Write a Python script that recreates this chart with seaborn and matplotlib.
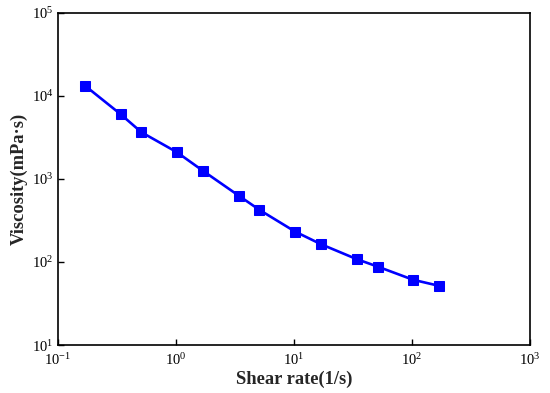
import matplotlib
matplotlib.use("Agg")
import matplotlib.pyplot as plt
import numpy as np
import pandas as pd
import seaborn as sns

# shear rate (1/s) and apparent viscosity (mPa·s)
shear_rate = [0.17, 0.34, 0.51, 1.02, 1.7, 3.4, 5.1, 10.2, 17, 34, 51, 102, 170]
viscosity = [13200, 6000, 3640, 2090, 1245, 628, 423, 232, 163, 108, 88, 61, 51.5]

XLABEL = "Shear rate(1/s)"
YLABEL = "Viscosity(mPa·s)"

sns.set_theme(style="ticks")
plt.rcParams.update({
    "font.family": ["Liberation Serif", "DejaVu Serif"],
    "mathtext.fontset": "custom",
    "mathtext.rm": "Liberation Serif",
    "xtick.direction": "in",
    "ytick.direction": "in",
    "axes.linewidth": 1.2,
    "axes.edgecolor": "black",
})

df = pd.DataFrame({"rate": shear_rate, "visc": viscosity})

fig = plt.figure(figsize=(5.5, 3.93), dpi=100)
ax = fig.add_axes([0.105, 0.122, 0.859, 0.846])

sns.lineplot(data=df, x="rate", y="visc", ax=ax, color="#0000ff",
             marker="s", markersize=7.5, markeredgecolor="#0000ff",
             linewidth=1.9)

ax.set_xscale("log")
ax.set_yscale("log")
ax.set_xlim(0.1, 1000)
ax.set_ylim(10, 1e5)
ax.minorticks_off()
ax.set_xticks([0.1, 1, 10, 100, 1000])
ax.set_yticks([10, 100, 1000, 1e4, 1e5])
ax.tick_params(axis="both", which="major", length=4.5, width=1.0,
               labelsize=10.5, color="black", labelcolor="black", pad=5)
ax.tick_params(axis="y", pad=3)

ax.set_xlabel(XLABEL, fontsize=13.3, fontweight="bold", labelpad=2)
ax.set_ylabel(YLABEL, fontsize=13.3, fontweight="bold")
ax.yaxis.set_label_coords(-0.063, 0.5)

for s in ax.spines.values():
    s.set_visible(True)
    s.set_color("black")

fig.savefig("out.png", dpi=100, facecolor="white")
